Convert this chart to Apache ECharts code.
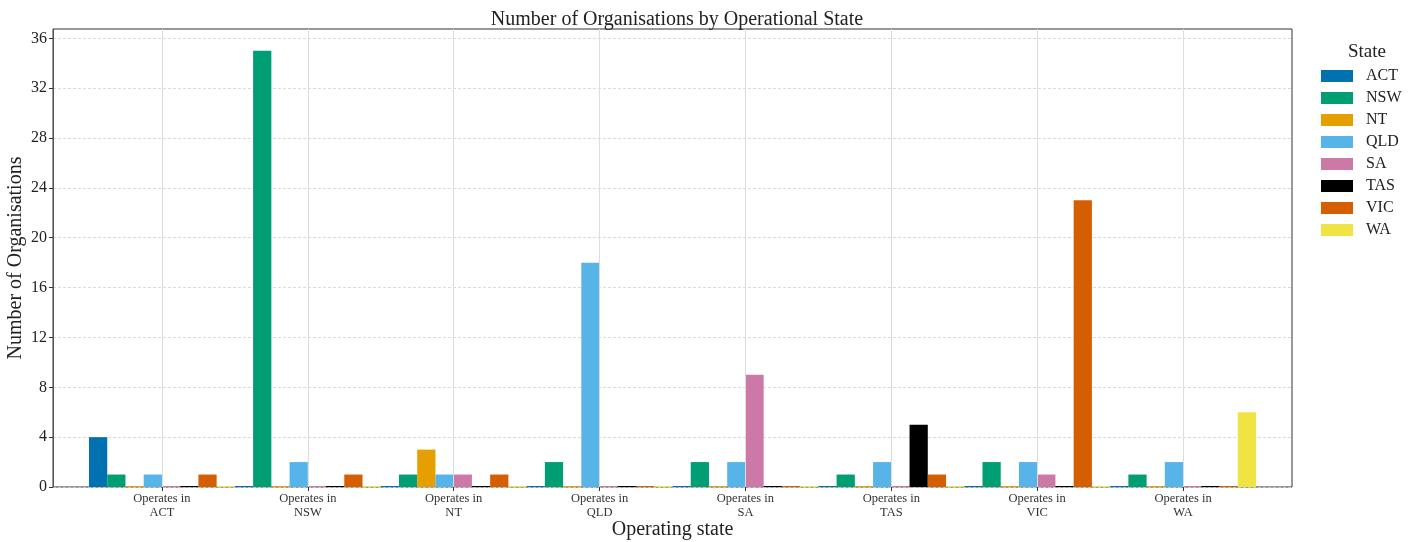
<!DOCTYPE html>
<html>
<head>
<meta charset="utf-8">
<script src="https://cdn.jsdelivr.net/npm/echarts@6/dist/echarts.min.js"></script>
<style>
  html, body { margin: 0; padding: 0; background: #fff; }
  #chart { width: 1418px; height: 542px; }
</style>
</head>
<body>
<div id="chart"></div>
<script>
// Operating states (x categories) and the home states (series)
const categories = ['Operates in\nACT', 'Operates in\nNSW', 'Operates in\nNT', 'Operates in\nQLD',
                    'Operates in\nSA', 'Operates in\nTAS', 'Operates in\nVIC', 'Operates in\nWA'];
const states = ['ACT', 'NSW', 'NT', 'QLD', 'SA', 'TAS', 'VIC', 'WA'];

// Organisation counts per home state, one value per operating state
const ACT = [4, 0, 0, 0, 0, 0, 0, 0];
const NSW = [1, 35, 1, 2, 2, 1, 2, 1];
const NT  = [0, 0, 3, 0, 0, 0, 0, 0];
const QLD = [1, 2, 1, 18, 2, 2, 2, 2];
const SA  = [0, 0, 1, 0, 9, 0, 1, 0];
const TAS = [0, 0, 0, 0, 0, 5, 0, 0];
const VIC = [1, 1, 1, 0, 0, 1, 23, 0];
const WA  = [0, 0, 0, 0, 0, 0, 0, 6];

const yTicks = [0, 4, 8, 12, 16, 20, 24, 28, 32, 36];
const yMax = 36.75;

const seriesValues = { ACT, NSW, NT, QLD, SA, TAS, VIC, WA };
const colors = ['#0072B2', '#009E73', '#E69F00', '#56B4E9', '#CC79A7', '#000000', '#D55E00', '#F0E442'];

const font = 'Liberation Serif, DejaVu Serif, serif';

const chart = echarts.init(document.getElementById('chart'), null, { renderer: 'canvas' });

const barSeries = states.map((s, i) => ({
  name: s,
  type: 'bar',
  xAxisIndex: 1,
  yAxisIndex: 1,
  data: seriesValues[s],
  barGap: '0%',
  barCategoryGap: '0%',
  barMinHeight: 1,
  itemStyle: { color: colors[i] },
  z: 3
}));

// vertical guide lines at each category centre
const guideSeries = {
  type: 'line',
  xAxisIndex: 1,
  yAxisIndex: 1,
  data: [],
  silent: true,
  z: 1,
  markLine: {
    silent: true,
    symbol: 'none',
    label: { show: false },
    lineStyle: { color: '#dcdcdc', type: 'solid', width: 1 },
    data: categories.map(c => ({ xAxis: c }))
  }
};

chart.setOption({
  animation: false,
  backgroundColor: '#fff',
  color: colors,
  textStyle: { fontFamily: font },
  title: [
    {
      text: 'Number of Organisations by Operational State',
      left: 672, top: 5, textAlign: 'center',
      textStyle: { fontFamily: font, fontSize: 20, fontWeight: 'normal', color: '#222' }
    },
    {
      text: 'State',
      left: 1362, top: 38, textAlign: 'center',
      textStyle: { fontFamily: font, fontSize: 19, fontWeight: 'normal', color: '#222' }
    }
  ],
  legend: {
    data: states,
    orient: 'vertical',
    left: 1321, top: 68,
    padding: 0,
    itemWidth: 32, itemHeight: 12, itemGap: 6,
    icon: 'rect',
    textStyle: { fontFamily: font, fontSize: 16, color: '#222', padding: [0, 0, 0, 8] },
    selectedMode: false
  },
  grid: [
    { left: 53, right: 126, top: 29, bottom: 55, outerBoundsMode: 'none', containLabel: false,
      show: true, borderColor: '#333', borderWidth: 1, backgroundColor: 'transparent' },
    { left: 89, right: 162, top: 29, bottom: 55, outerBoundsMode: 'none', containLabel: false }
  ],
  xAxis: [
    { gridIndex: 0, type: 'value', min: 0, max: 1, show: false },
    {
      gridIndex: 1, type: 'category', data: categories,
      axisLine: { show: false },
      axisTick: { show: true, alignWithLabel: true, length: 4, lineStyle: { color: '#333' } },
      axisLabel: { fontFamily: font, fontSize: 12.5, color: '#333', margin: 5, lineHeight: 14, interval: 0 },
      splitLine: { show: false },
      name: 'Operating state', nameLocation: 'middle', nameGap: 43, nameMoveOverlap: false,
      nameTextStyle: { fontFamily: font, fontSize: 20, color: '#222', verticalAlign: 'middle' }
    }
  ],
  yAxis: [
    {
      gridIndex: 0, type: 'value', min: 0, max: yMax, interval: 4,
      axisLine: { show: true, lineStyle: { color: '#555' } },
      axisTick: { show: true, length: 4, lineStyle: { color: '#333' }, customValues: yTicks },
      axisLabel: { fontFamily: font, fontSize: 16, color: '#222', margin: 6, customValues: yTicks },
      splitLine: { show: true, lineStyle: { color: '#d0d0d0', type: [3, 2], width: 0.8 } },
      name: 'Number of Organisations', nameLocation: 'middle', nameGap: 37, nameMoveOverlap: false,
      nameTextStyle: { fontFamily: font, fontSize: 20, color: '#222', verticalAlign: 'middle' }
    },
    { gridIndex: 1, type: 'value', min: 0, max: yMax, show: false }
  ],
  series: [guideSeries, ...barSeries]
});
</script>
</body>
</html>
